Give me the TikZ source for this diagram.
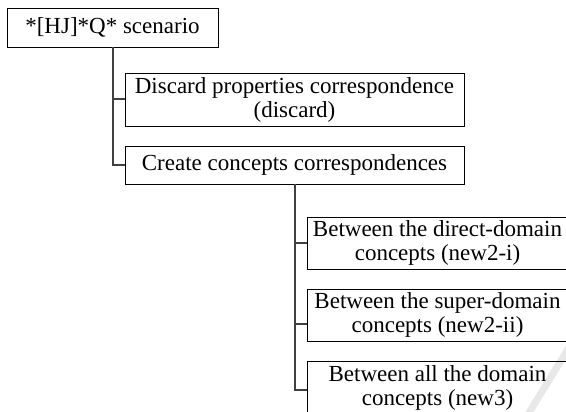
\documentclass[tikz,border=0pt]{standalone}
\usepackage{fontspec}
\setmainfont{Liberation Serif}
\begin{document}
\begin{tikzpicture}[x=1pt,y=-1pt,
  box/.style={draw=black,line width=0.9pt,inner sep=0pt,align=center,
    font=\fontsize{23}{24}\selectfont},
  conn/.style={draw=black!75,line width=2pt}]
\useasboundingbox (0,0) rectangle (566,412);
\clip (0,0) rectangle (566,412);
\fill[white] (0,0) rectangle (566,412);
\draw[gray!18,line width=7pt] (570,346) -- (527,416);
\node[box,minimum width=211pt,minimum height=39pt] (b1) at (112.5,27.5) {*[HJ]*Q* scenario};
\node[box,minimum width=339pt,minimum height=53pt] (b2) at (294.5,99.5) {Discard properties correspondence\\(discard)};
\node[box,minimum width=339pt,minimum height=38pt] (b3) at (294.5,165) {Create concepts correspondences};
\node[box,minimum width=261pt,minimum height=52pt] (b4) at (437.5,243) {Between the direct-domain\\concepts (new2-i)};
\node[box,minimum width=261pt,minimum height=52pt] (b5) at (437.5,315) {Between the super-domain\\concepts (new2-ii)};
\node[box,minimum width=261pt,minimum height=53pt] (b6) at (437.5,387.5) {Between all the domain\\concepts (new3)};
\draw[conn] (b1.south) |- (b2.west);
\draw[conn] (b1.south) |- (b3.west);
\draw[conn] (b3.south) |- (b4.west);
\draw[conn] (b3.south) |- ([yshift=-9pt]b5.west);
\draw[conn] (b3.south) |- ([yshift=-2.5pt]b6.west);
\end{tikzpicture}
\end{document}
